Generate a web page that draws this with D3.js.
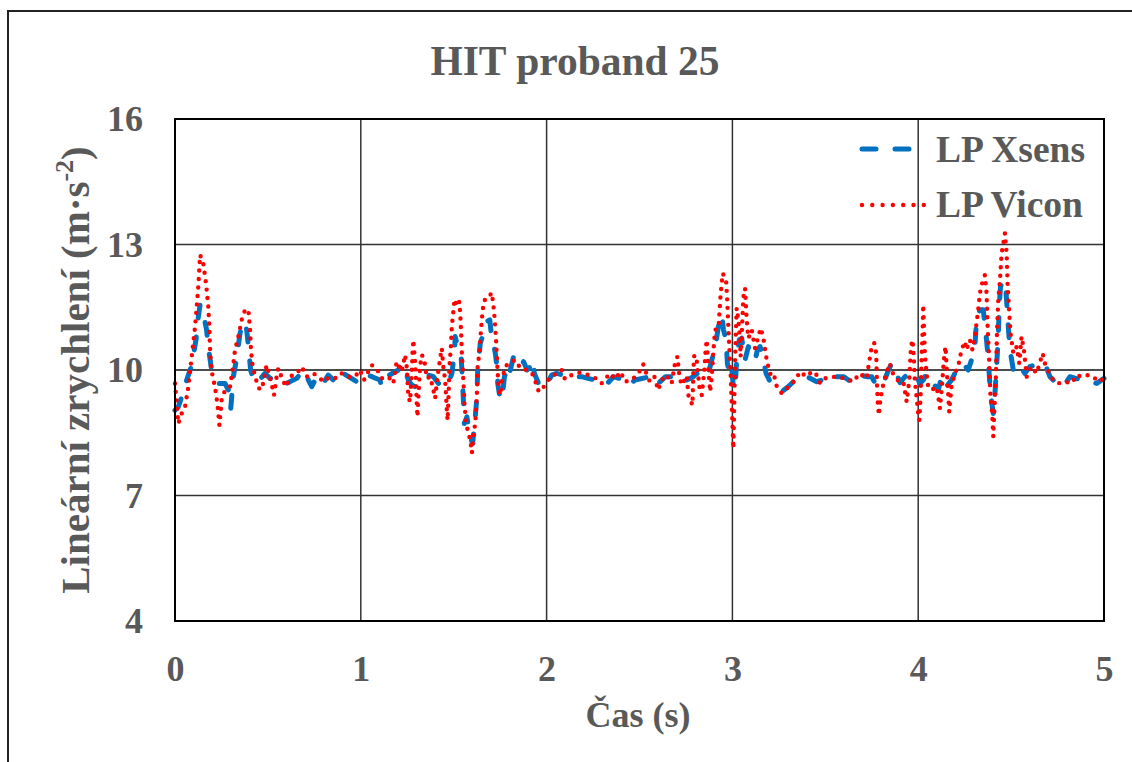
<!DOCTYPE html>
<html><head><meta charset="utf-8">
<script src="https://cdn.jsdelivr.net/npm/d3@7"></script>
<style>body{margin:0;background:#fff}svg{display:block}</style>
</head><body>
<script>
const title = "HIT proband 25";
const xTicks = [0,1,2,3,4,5];
const yTicks = [4,7,10,13,16];
const seriesNames = ["LP Xsens","LP Vicon"];

const timeXsens = [0.000,0.018,0.036,0.063,0.090,0.113,0.126,0.135,0.152,0.170,0.179,0.197,0.215,0.233,0.269,0.287,0.300,0.314,0.332,0.350,0.368,0.386,0.395,0.407,0.422,0.440,0.484,0.511,0.547,0.601,0.655,0.691,0.736,0.763,0.798,0.825,0.870,0.906,0.978,1.014,1.060,1.103,1.112,1.139,1.202,1.220,1.238,1.256,1.274,1.292,1.310,1.337,1.364,1.391,1.418,1.445,1.472,1.490,1.504,1.508,1.517,1.535,1.540,1.546,1.553,1.557,1.571,1.589,1.602,1.616,1.625,1.629,1.643,1.658,1.679,1.694,1.701,1.724,1.733,1.737,1.748,1.760,1.773,1.787,1.796,1.822,1.840,1.862,1.876,1.895,1.913,1.927,1.934,1.964,2.000,2.027,2.054,2.125,2.188,2.260,2.287,2.319,2.360,2.422,2.440,2.476,2.556,2.592,2.640,2.682,2.700,2.736,2.754,2.790,2.808,2.826,2.853,2.871,2.889,2.907,2.930,2.943,2.952,2.966,2.973,2.984,2.996,3.005,3.014,3.023,3.037,3.050,3.068,3.086,3.104,3.122,3.135,3.149,3.167,3.181,3.199,3.230,3.266,3.300,3.347,3.373,3.400,3.454,3.481,3.508,3.560,3.598,3.625,3.643,3.670,3.688,3.723,3.750,3.768,3.786,3.813,3.840,3.858,3.876,3.902,3.929,3.956,3.985,4.009,4.027,4.045,4.081,4.108,4.126,4.152,4.179,4.206,4.242,4.269,4.287,4.305,4.314,4.332,4.350,4.364,4.371,4.378,4.382,4.389,4.404,4.413,4.422,4.431,4.436,4.443,4.458,4.472,4.479,4.486,4.494,4.512,4.530,4.548,4.574,4.601,4.655,4.682,4.709,4.745,4.781,4.817,4.880,4.961,5.000];
const valueXsens = [9.04,9.12,9.36,9.76,10.12,10.72,11.28,11.56,11.36,10.96,10.56,10.00,9.84,9.68,9.68,9.52,9.08,9.84,10.28,10.88,11.16,10.96,10.56,10.00,9.76,9.68,9.92,9.80,9.84,9.68,9.80,10.00,9.60,9.84,9.68,9.88,9.68,9.92,9.72,9.92,9.84,9.76,9.60,9.84,10.00,10.16,10.00,9.76,9.64,9.60,9.68,9.76,9.88,9.84,9.68,9.60,9.68,9.92,10.40,10.80,10.64,10.48,10.32,9.84,9.20,8.72,8.88,8.40,8.24,8.88,9.36,10.00,10.64,10.84,11.16,11.20,10.92,10.40,10.08,9.68,9.36,9.28,9.84,10.00,9.84,10.32,10.16,10.08,10.20,10.00,10.08,10.24,9.92,9.60,9.64,9.88,9.92,9.84,9.84,9.76,9.72,9.64,9.84,9.76,9.64,9.76,9.84,9.64,9.84,9.84,9.88,9.88,9.76,9.84,9.92,9.80,9.84,9.92,10.24,10.52,11.20,11.32,10.96,10.72,10.16,9.92,10.08,9.60,9.52,10.24,10.72,10.76,10.24,10.56,10.32,10.24,10.48,10.56,10.24,9.92,9.76,9.64,9.48,9.60,9.80,9.76,9.84,9.72,9.76,9.68,9.84,9.84,9.76,9.70,9.80,9.88,9.84,9.84,9.68,9.60,9.68,10.00,10.16,10.00,9.70,9.84,9.96,9.92,9.68,9.76,9.92,9.68,9.52,9.84,9.60,9.76,10.00,10.16,10.00,10.24,10.56,11.20,11.44,11.44,10.88,10.56,10.24,9.92,9.44,8.96,9.44,10.08,10.80,11.52,11.99,12.15,11.91,11.44,10.96,10.48,10.00,10.16,10.08,9.92,10.08,10.16,10.16,9.84,9.68,9.60,9.84,9.76,9.68,9.80];

const timeVicon = [0.000,0.018,0.036,0.054,0.072,0.090,0.108,0.117,0.126,0.135,0.152,0.167,0.179,0.185,0.188,0.194,0.203,0.215,0.228,0.239,0.251,0.269,0.296,0.310,0.323,0.341,0.359,0.377,0.395,0.404,0.409,0.416,0.431,0.443,0.457,0.475,0.493,0.511,0.533,0.547,0.556,0.583,0.601,0.619,0.655,0.682,0.709,0.745,0.771,0.798,0.834,0.870,0.897,0.924,0.969,0.996,1.017,1.058,1.085,1.112,1.148,1.175,1.193,1.220,1.238,1.247,1.256,1.265,1.274,1.279,1.283,1.292,1.297,1.301,1.305,1.310,1.319,1.328,1.341,1.355,1.373,1.387,1.400,1.413,1.427,1.436,1.445,1.454,1.463,1.467,1.472,1.477,1.485,1.490,1.499,1.504,1.517,1.530,1.535,1.540,1.544,1.553,1.558,1.567,1.580,1.589,1.598,1.607,1.616,1.625,1.629,1.638,1.647,1.656,1.665,1.688,1.703,1.712,1.721,1.728,1.733,1.737,1.742,1.751,1.760,1.778,1.796,1.814,1.832,1.859,1.895,1.922,1.940,1.958,1.985,2.021,2.054,2.081,2.099,2.135,2.179,2.215,2.265,2.296,2.341,2.368,2.398,2.422,2.458,2.495,2.520,2.535,2.556,2.580,2.601,2.619,2.646,2.673,2.691,2.704,2.715,2.727,2.754,2.763,2.785,2.790,2.795,2.808,2.822,2.835,2.849,2.856,2.862,2.871,2.880,2.889,2.898,2.907,2.925,2.930,2.937,2.948,2.966,2.973,2.978,2.984,2.991,2.996,3.001,3.005,3.010,3.014,3.019,3.023,3.032,3.041,3.044,3.050,3.059,3.068,3.073,3.077,3.086,3.104,3.122,3.140,3.152,3.167,3.176,3.185,3.199,3.212,3.224,3.239,3.266,3.302,3.338,3.365,3.397,3.418,3.445,3.472,3.499,3.553,3.607,3.652,3.684,3.723,3.732,3.750,3.763,3.774,3.778,3.783,3.789,3.796,3.807,3.823,3.847,3.864,3.896,3.920,3.938,3.952,3.961,3.970,3.977,3.982,3.991,4.000,4.006,4.013,4.018,4.024,4.027,4.036,4.045,4.054,4.072,4.099,4.108,4.117,4.129,4.138,4.147,4.156,4.167,4.179,4.197,4.215,4.233,4.251,4.260,4.278,4.292,4.305,4.314,4.323,4.332,4.341,4.359,4.368,4.373,4.382,4.389,4.398,4.404,4.409,4.418,4.425,4.431,4.440,4.449,4.458,4.467,4.476,4.481,4.488,4.497,4.512,4.530,4.544,4.556,4.569,4.584,4.610,4.637,4.670,4.682,4.706,4.727,4.754,4.790,4.826,4.853,4.880,4.916,4.943,4.970,5.000];
const valueVicon = [9.68,8.72,8.96,9.12,9.60,10.32,11.04,11.52,12.03,12.75,12.55,12.07,11.52,11.04,10.56,10.08,9.84,9.60,9.20,8.68,9.28,9.52,9.60,10.00,10.48,10.80,11.20,11.44,11.44,10.96,10.48,10.16,9.84,9.68,9.52,9.68,10.12,9.84,9.40,9.84,10.04,9.72,9.60,9.84,9.92,10.08,9.84,9.92,9.84,9.72,9.84,9.80,9.92,9.84,9.84,10.00,9.76,10.12,10.04,9.80,9.84,9.68,10.20,9.96,10.36,10.08,9.36,9.24,9.92,10.48,10.72,10.20,9.76,9.20,8.88,9.36,10.08,10.36,10.28,9.80,9.84,9.60,9.32,9.84,10.28,10.52,10.04,9.76,9.04,8.80,9.32,10.08,10.56,11.04,11.44,11.69,11.52,11.63,11.36,10.88,10.40,9.68,9.20,8.72,8.48,8.33,8.02,8.48,8.72,9.44,10.08,10.40,10.96,11.44,11.67,11.71,11.85,11.63,11.20,10.72,10.24,9.92,9.52,9.40,9.76,10.08,10.16,10.20,10.24,10.04,10.00,9.92,9.72,9.48,9.60,9.84,9.92,10.00,9.78,9.88,9.94,9.90,9.80,9.68,9.92,9.78,9.96,9.72,9.76,9.92,10.14,9.94,9.72,9.84,9.52,9.76,9.88,9.68,10.16,10.32,9.84,9.64,9.86,9.40,9.16,10.00,10.36,10.24,9.60,9.40,10.00,10.48,10.72,10.00,9.48,9.84,10.48,10.96,11.00,11.36,11.83,12.31,12.15,11.59,11.04,10.48,9.84,9.20,8.64,8.12,9.12,10.16,10.96,11.48,11.20,10.72,10.32,10.80,11.75,11.95,11.52,11.20,10.76,10.96,10.52,10.80,11.00,10.76,10.48,10.24,9.96,9.84,9.88,9.60,9.44,9.60,9.76,9.96,9.84,9.92,9.96,9.68,9.80,9.84,9.80,9.72,9.92,9.80,10.08,10.56,10.65,10.40,9.68,9.16,8.92,9.28,9.56,9.84,10.16,9.92,9.72,9.72,9.24,9.76,10.56,10.72,10.24,9.76,9.36,8.96,8.80,9.36,10.24,10.96,11.56,10.40,9.92,9.60,9.52,9.60,9.36,9.08,9.68,10.24,10.56,9.84,9.00,9.60,9.92,10.08,10.48,10.68,10.48,10.72,10.48,10.80,11.12,11.44,11.83,12.03,12.27,11.83,11.12,10.24,9.36,8.96,8.41,8.96,9.84,11.04,11.67,12.15,12.79,13.03,13.27,12.79,12.07,11.52,10.88,10.40,10.56,10.16,10.80,10.48,9.84,10.08,9.92,10.40,10.16,9.92,9.76,9.68,9.72,9.68,9.88,9.84,9.88,9.84,9.72,9.80];

const W = 1132, H = 762;
const m = {left:175, right:1104, top:119, bottom:621};
const txt = "#595959";
const font = "'Liberation Serif','Times New Roman',serif";

const svg = d3.select("body").append("svg").attr("width",W).attr("height",H);
svg.append("rect").attr("width",W).attr("height",H).attr("fill","#fff");
// outer frame (top and left edges visible)
svg.append("path").attr("d",`M8,${H+5} L8,11 L${W+5},11`).attr("fill","none").attr("stroke","#222").attr("stroke-width",2);

const x = d3.scaleLinear().domain([0,5]).range([m.left,m.right]);
const y = d3.scaleLinear().domain([4,16]).range([m.bottom,m.top]);

// gridlines
const g = svg.append("g");
g.selectAll(".gx").data(xTicks.slice(1,-1)).join("line")
  .attr("x1",d=>x(d)).attr("x2",d=>x(d)).attr("y1",m.top).attr("y2",m.bottom)
  .attr("stroke","#333").attr("stroke-width",1.5);
g.selectAll(".gy").data(yTicks.slice(1,-1)).join("line")
  .attr("y1",d=>y(d)).attr("y2",d=>y(d)).attr("x1",m.left).attr("x2",m.right)
  .attr("stroke",d=>d===10?"#111":"#333").attr("stroke-width",1.5);

// axes
const xAxis = d3.axisBottom(x).tickValues(xTicks).tickSize(0).tickPadding(34).tickFormat(d3.format("d"));
const yAxis = d3.axisLeft(y).tickValues(yTicks).tickSize(0).tickPadding(32).tickFormat(d3.format("d"));
const ax = svg.append("g").attr("transform",`translate(0,${m.bottom})`).call(xAxis);
const ay = svg.append("g").attr("transform",`translate(${m.left},0)`).call(yAxis);
[ax,ay].forEach(a=>{
  a.select(".domain").remove();
  a.selectAll("text").attr("font-family",font).attr("font-weight","bold").attr("font-size",36).attr("fill",txt);
});

// series
const line = d3.line().x(d=>x(d[0])).y(d=>y(d[1]));
const xs = timeXsens.map((t,i)=>[t,valueXsens[i]]);
const vc = timeVicon.map((t,i)=>[t,valueVicon[i]]);
svg.append("path").datum(xs).attr("d",line).attr("fill","none")
  .attr("stroke","#0070C0").attr("stroke-width",5).attr("stroke-dasharray","13,19").attr("stroke-linecap","round").attr("stroke-linejoin","round");
svg.append("path").datum(vc).attr("d",line).attr("fill","none")
  .attr("stroke","#FF0000").attr("stroke-width",4.4).attr("stroke-dasharray","0,8.5").attr("stroke-linecap","round").attr("stroke-linejoin","round");

// plot border
svg.append("rect").attr("x",m.left).attr("y",m.top).attr("width",m.right-m.left).attr("height",m.bottom-m.top)
  .attr("fill","none").attr("stroke","#000").attr("stroke-width",2);

// title
svg.append("text").attr("x",575).attr("y",75).attr("text-anchor","middle")
  .attr("font-family",font).attr("font-weight","bold").attr("font-size",41.5).attr("fill",txt).text(title);

// x label
svg.append("text").attr("x",638).attr("y",727).attr("text-anchor","middle")
  .attr("font-family",font).attr("font-weight","bold").attr("font-size",36).attr("fill",txt).text("Čas (s)");

// y label
const yl = svg.append("text").attr("transform","translate(89,370) rotate(-90)").attr("text-anchor","middle")
  .attr("font-family",font).attr("font-weight","bold").attr("font-size",41).attr("fill",txt);
yl.append("tspan").text("Lineární zrychlení (m·s");
yl.append("tspan").attr("font-size",26).attr("dy",-16).text("-2");
yl.append("tspan").attr("dy",16).text(")");

// legend
const leg = svg.append("g");
leg.append("line").attr("x1",862).attr("x2",918).attr("y1",149).attr("y2",149)
  .attr("stroke","#0070C0").attr("stroke-width",5).attr("stroke-dasharray","14,19").attr("stroke-linecap","round");
leg.append("line").attr("x1",862).attr("x2",925).attr("y1",205).attr("y2",205)
  .attr("stroke","#FF0000").attr("stroke-width",4.4).attr("stroke-dasharray","0,10.3").attr("stroke-linecap","round");
leg.selectAll("text.l").data(seriesNames).join("text")
  .attr("x",936).attr("y",(d,i)=>162+i*55)
  .attr("font-family",font).attr("font-weight","bold").attr("font-size",37.5).attr("fill",txt).text(d=>d);
</script>
</body></html>
